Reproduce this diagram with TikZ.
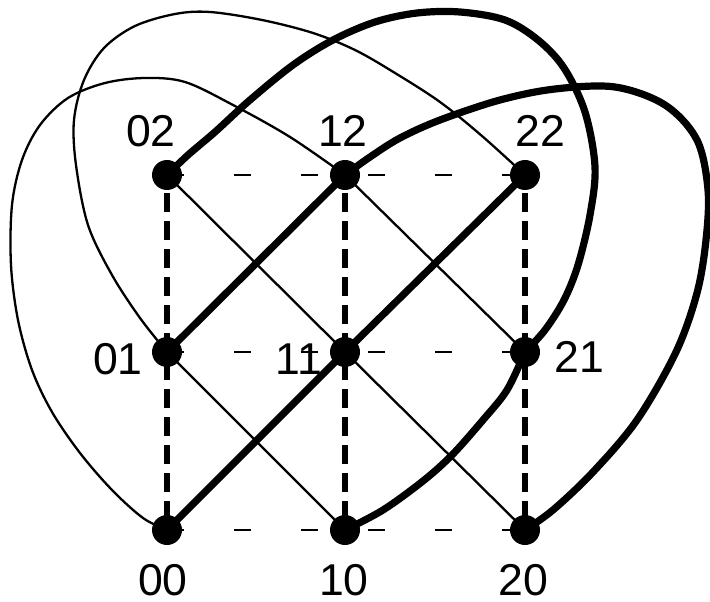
\documentclass[tikz,border=0pt]{standalone}
\usepackage{fontspec}
\setmainfont{Liberation Sans}
\begin{document}
\begin{tikzpicture}[x=0.5bp,y=-0.5bp,
  dot/.style={circle,fill=black,minimum size=15bp,inner sep=0pt},
  lab/.style={inner sep=0pt,font=\fontsize{22.3bp}{26bp}\selectfont},
  thickedge/.style={line width=3.6bp,line join=round},
  thinedge/.style={line width=1.15bp,line join=round},
  vdash/.style={line width=3.2bp,dash pattern=on 9.5bp off 4.5bp,dash phase=5bp},
  hdash/.style={line width=1.1bp,dash pattern=on 8.5bp off 25bp},
  sm/.style={smooth,tension=0.55}]
\useasboundingbox (0,0) rectangle (710,602);
% node positions
\coordinate (n00) at (167,530); \coordinate (n10) at (345,530); \coordinate (n20) at (525,530);
\coordinate (n01) at (167,352); \coordinate (n11) at (345,352); \coordinate (n21) at (525,352);
\coordinate (n02) at (167,175); \coordinate (n12) at (345,175); \coordinate (n22) at (525,175);
% labels
\node[lab] (l02) at (151,131) {02};
\node[lab] (l12) at (343,131) {12};
\node[lab] (l22) at (540,131) {22};
\node[lab] (l01) at (118,359) {01};
\node[lab] (l11) at (299,359) {11};
\node[lab] (l21) at (579,357) {21};
\node[lab] (l00) at (163,580) {00};
\node[lab] (l10) at (344,580) {10};
\node[lab] (l20) at (523,580) {20};
% dashed grid
\draw[vdash] (n02) -- (n01) -- (n00);
\draw[vdash] (n12) -- (n11) -- (n10);
\draw[vdash] (n22) -- (n21) -- (n20);
\draw[hdash] (n02) -- (n12) -- (n22);
\draw[hdash] (n01) -- (n11) -- (n21);
\draw[hdash] (n00) -- (n10) -- (n20);
% thin edges
\draw[thinedge] (n02) -- (n11) -- (n20);
\draw[thinedge] (n01) -- (n10);
\draw[thinedge] (n12) -- (n21);
\draw[thinedge] plot[sm] coordinates {(n01) (140,318) (112,275) (88,225) (76,165) (74,120) (84,80) (104,48) (135,26) (175,14) (210,12) (262,20) (313,33) (355,50) (395,73) (440,102) (482,136) (n22)};
\draw[thinedge] plot[sm] coordinates {(n00) (143,518) (112,490) (80,453) (52,412) (32,370) (18,320) (11,265) (12,205) (22,160) (40,125) (68,98) (105,83) (145,78) (185,82) (233,105) (290,137) (n12)};
% thick edges
\draw[thickedge] (n00) -- (n11) -- (n22);
\draw[thickedge] (n01) -- (n12);
\draw[thickedge] plot[sm] coordinates {(n12) (370,157) (400,138) (440,120) (500,100) (555,89) (615,87) (665,105) (697,140) (708,190) (706,240) (697,293) (676,352) (637,420) (593,472) (553,510) (n20)};
\draw[thickedge] plot[sm] coordinates {(n10) (383,510) (423,481) (452,455) (483,420) (507,390) (n21)};
\draw[thickedge] plot[sm] coordinates {(n21) (545,330) (564,300) (578,265) (590,215) (595,167) (585,112) (564,68) (538,40) (505,20) (460,12) (417,13) (375,22) (333,40) (293,65) (250,100) (215,132) (188,155) (n02)};
% dots
\foreach \n in {00,10,20,01,11,21,02,12,22} \node[dot] (d\n) at (n\n) {};
\end{tikzpicture}
\end{document}
